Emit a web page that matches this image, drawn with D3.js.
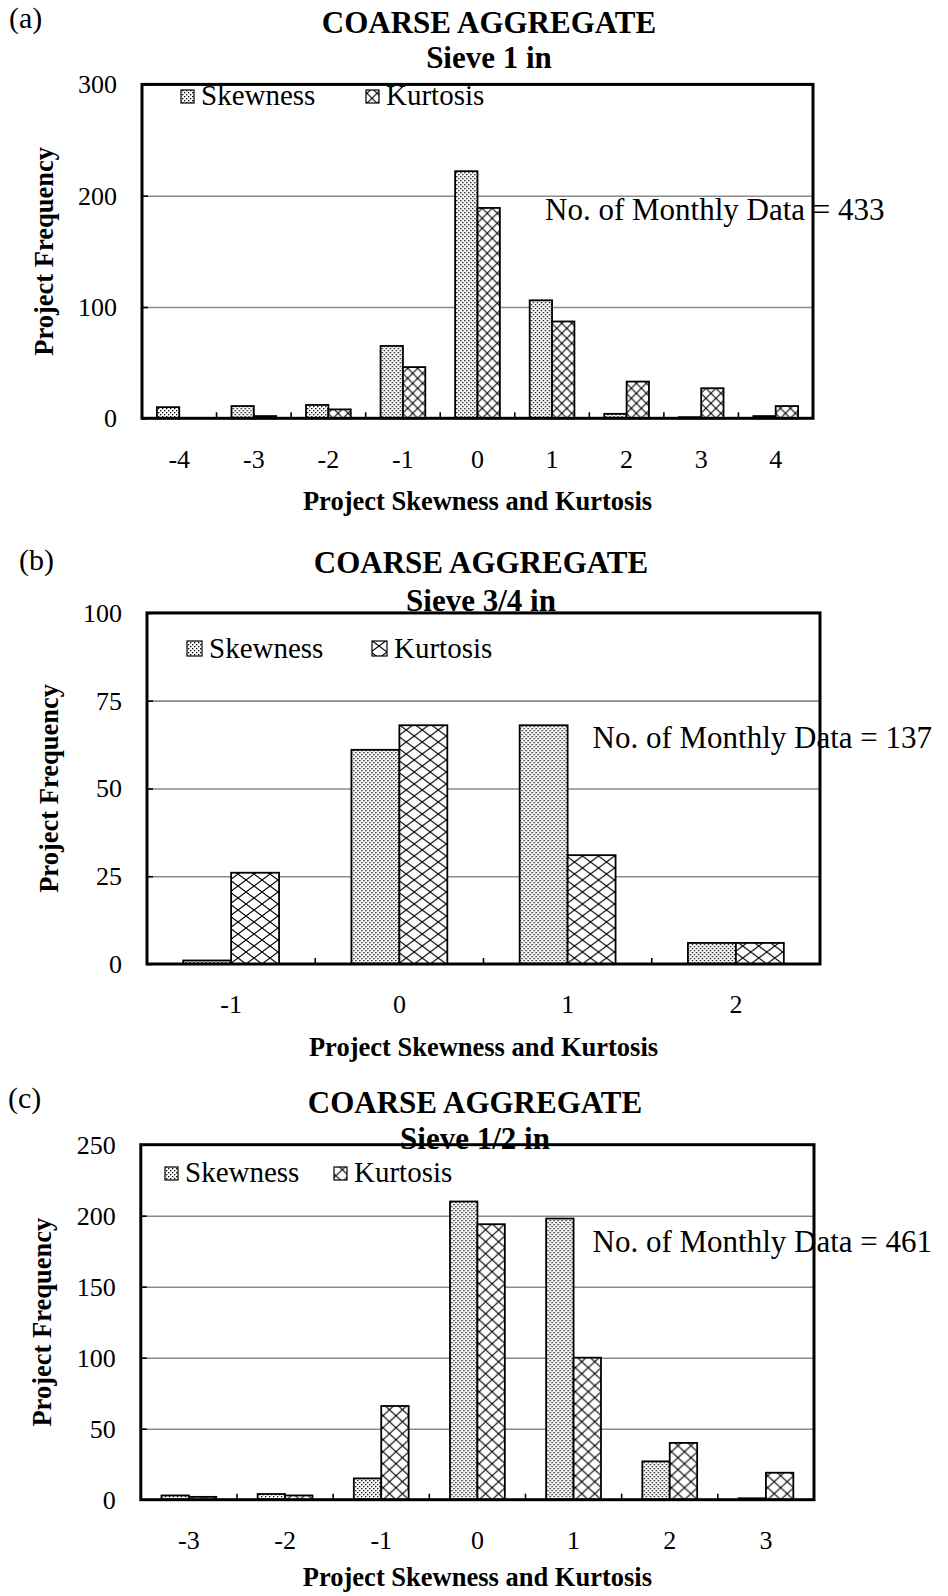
<!DOCTYPE html>
<html><head><meta charset="utf-8">
<script src="https://cdn.jsdelivr.net/npm/d3@7"></script>
<style>
html,body{margin:0;padding:0;background:#fff;}
svg{display:block;}
text{font-family:"Liberation Serif","Times New Roman",serif;fill:#000;}
</style></head><body>
<svg id="fig" width="948" height="1596"></svg>
<script>
// Sieve 1 in
const catsA = ["-4","-3","-2","-1","0","1","2","3","4"];
const skewA = [10, 11, 12, 65, 222, 106, 4, 1, 2];
const kurtA = [0, 2, 8, 46, 189, 87, 33, 27, 11];
const ticksA = [0, 100, 200, 300];
// Sieve 3/4 in
const catsB = ["-1","0","1","2"];
const skewB = [1, 61, 68, 6];
const kurtB = [26, 68, 31, 6];
const ticksB = [0, 25, 50, 75, 100];
// Sieve 1/2 in
const catsC = ["-3","-2","-1","0","1","2","3"];
const skewC = [3, 4, 15, 210, 198, 27, 1];
const kurtC = [2, 3, 66, 194, 100, 40, 19];
const ticksC = [0, 50, 100, 150, 200, 250];

const seriesNames = ["Skewness", "Kurtosis"];
const panelLabels = ["(a)", "(b)", "(c)"];
const titleMain = "COARSE AGGREGATE";
const sieveTitles = ["Sieve 1 in", "Sieve 3/4 in", "Sieve 1/2 in"];
const dataCounts = [433, 137, 461];
const yTitle = "Project Frequency";
const xTitle = "Project Skewness and Kurtosis";

// page geometry for the three stacked panels
const layouts = [
  {left:142, right:813, top:84.4, bottom:418.3, inset:0.2, hatch:[10,10], sw:13, xt:92,
   label:{x:9, y:28}, title:{x:489, y1:33.3, y2:68.3},
   legend:{y:105, x1:181, x2:366}, note:{x:545, y:220}},
  {left:147, right:820, top:612.9, bottom:964, inset:0.215, hatch:[16,12], sw:15, xt:92,
   label:{x:19, y:570}, title:{x:481, y1:573.3, y2:610.5},
   legend:{y:658, x1:187, x2:372}, note:{x:592.6, y:748.3}},
  {left:140.8, right:814, top:1144.7, bottom:1499.7, inset:0.215, hatch:[13,12], sw:13, xt:86,
   label:{x:8, y:1108}, title:{x:475, y1:1113.3, y2:1148.5},
   legend:{y:1182, x1:165, x2:334}, note:{x:592.6, y:1251.7}}
];

const panels = [
  {cats:catsA, skew:skewA, kurt:kurtA, ticks:ticksA},
  {cats:catsB, skew:skewB, kurt:kurtB, ticks:ticksB},
  {cats:catsC, skew:skewC, kurt:kurtC, ticks:ticksC}
];

const svg = d3.select("#fig");
svg.append("rect").attr("width",948).attr("height",1596).attr("fill","#fff");
const defs = svg.append("defs");

// fine stipple used for the skewness bars
const dots = defs.append("pattern").attr("id","dots")
  .attr("patternUnits","userSpaceOnUse").attr("width",4).attr("height",4);
dots.append("rect").attr("width",4).attr("height",4).attr("fill","#fff");
dots.append("rect").attr("x",0).attr("y",0).attr("width",1.3).attr("height",1.3).attr("fill","#000");
dots.append("rect").attr("x",2).attr("y",2).attr("width",1.3).attr("height",1.3).attr("fill","#000");

// diagonal cross-hatch used for the kurtosis bars (one per panel scale)
layouts.forEach((L, i) => {
  const [w, h] = L.hatch;
  const p = defs.append("pattern").attr("id","hatch"+i)
    .attr("patternUnits","userSpaceOnUse").attr("width",w).attr("height",h)
    .attr("x", L.left).attr("y", L.bottom);
  p.append("rect").attr("width",w).attr("height",h).attr("fill","#fff");
  p.append("path").attr("d",`M0,0L${w},${h}M${w},0L0,${h}`)
    .attr("stroke","#000").attr("stroke-width",1.1).attr("fill","none");
});

panels.forEach((P, i) => {
  const L = layouts[i];
  const g = svg.append("g");
  const x = d3.scaleBand().domain(P.cats).range([L.left, L.right]).padding(0);
  const bw = x.bandwidth();
  const xs = d3.scaleBand().domain(seriesNames)
    .range([bw*L.inset, bw*(1-L.inset)]).padding(0);
  const y = d3.scaleLinear().domain([0, d3.max(P.ticks)]).range([L.bottom, L.top]);
  const fills = ["url(#dots)", `url(#hatch${i})`];

  // horizontal gridlines
  g.append("g").attr("transform",`translate(${L.left},0)`)
    .call(d3.axisLeft(y).tickValues(P.ticks.slice(1)).tickSize(-(L.right-L.left)).tickFormat(""))
    .call(a => a.select(".domain").remove())
    .call(a => a.selectAll("line").attr("stroke","#8a8a8a").attr("stroke-width",1.6));

  // bars
  const rows = P.cats.map((c, k) => ({cat:c, vals:[P.skew[k], P.kurt[k]]}));
  const grp = g.selectAll("g.cat").data(rows).join("g")
    .attr("transform", d => `translate(${x(d.cat)},0)`);
  grp.selectAll("rect").data(d => d.vals.map((v, s) => ({v, s})))
    .join("rect")
    .filter(d => d.v > 0)
    .attr("x", d => xs(seriesNames[d.s]))
    .attr("width", xs.bandwidth())
    .attr("y", d => y(d.v))
    .attr("height", d => y(0) - y(d.v))
    .attr("fill", d => fills[d.s])
    .attr("stroke","#000").attr("stroke-width",1.8);

  // y tick labels
  g.append("g").attr("transform",`translate(${L.left},0)`)
    .call(d3.axisLeft(y).tickValues(P.ticks).tickSize(0).tickPadding(25))
    .call(a => a.select(".domain").remove())
    .call(a => a.selectAll("text").style("font-family",'"Liberation Serif",serif')
      .style("font-size","26px").attr("fill","#000"));
  // inside y ticks
  g.append("g").attr("transform",`translate(${L.left},0)`)
    .call(d3.axisRight(y).tickValues(P.ticks).tickSize(6).tickFormat(""))
    .call(a => a.select(".domain").remove())
    .call(a => a.selectAll("line").attr("stroke","#000").attr("stroke-width",1.6));

  // x tick labels at category centres
  g.append("g").attr("transform",`translate(0,${L.bottom})`)
    .call(d3.axisBottom(x).tickSize(0).tickPadding(31))
    .call(a => a.select(".domain").remove())
    .call(a => a.selectAll("text").style("font-family",'"Liberation Serif",serif')
      .style("font-size","26px").attr("fill","#000"));
  // inside x ticks at category boundaries
  g.selectAll("line.xt").data(P.cats.slice(1)).join("line")
    .attr("x1", d => x(d)).attr("x2", d => x(d))
    .attr("y1", L.bottom).attr("y2", L.bottom - 6)
    .attr("stroke","#000").attr("stroke-width",1.6);

  // titles
  g.append("text").attr("x", L.title.x).attr("y", L.title.y1).attr("text-anchor","middle")
    .style("font-size","31px").style("font-weight","bold").text(titleMain);
  g.append("text").attr("x", L.title.x).attr("y", L.title.y2).attr("text-anchor","middle")
    .style("font-size","31px").style("font-weight","bold").text(sieveTitles[i]);

  // sample size note
  g.append("text").attr("x", L.note.x).attr("y", L.note.y)
    .style("font-size","31px").text(`No. of Monthly Data = ${dataCounts[i]}`);

  // legend
  [L.legend.x1, L.legend.x2].forEach((lx, s) => {
    g.append("rect").attr("x", lx).attr("y", L.legend.y - L.sw - 2)
      .attr("width", L.sw).attr("height", L.sw)
      .attr("fill", fills[s]).attr("stroke","#000").attr("stroke-width",1.2);
    g.append("text").attr("x", lx + L.sw + 7).attr("y", L.legend.y)
      .style("font-size","29px").text(seriesNames[s]);
  });

  // plot frame
  g.append("rect").attr("x", L.left).attr("y", L.top)
    .attr("width", L.right - L.left).attr("height", L.bottom - L.top)
    .attr("fill","none").attr("stroke","#000").attr("stroke-width",3);

  // axis titles
  g.append("text").attr("x", (L.left + L.right)/2).attr("y", L.bottom + L.xt)
    .attr("text-anchor","middle").style("font-size","26.5px").style("font-weight","bold")
    .text(xTitle);
  g.append("text")
    .attr("transform", `translate(${L.left - 98.5 + 9},${(L.top + L.bottom)/2}) rotate(-90)`)
    .attr("text-anchor","middle").style("font-size","26.5px").style("font-weight","bold")
    .text(yTitle);

  // panel letter
  g.append("text").attr("x", L.label.x).attr("y", L.label.y)
    .style("font-size","30px").text(panelLabels[i]);
});
</script>
</body></html>
